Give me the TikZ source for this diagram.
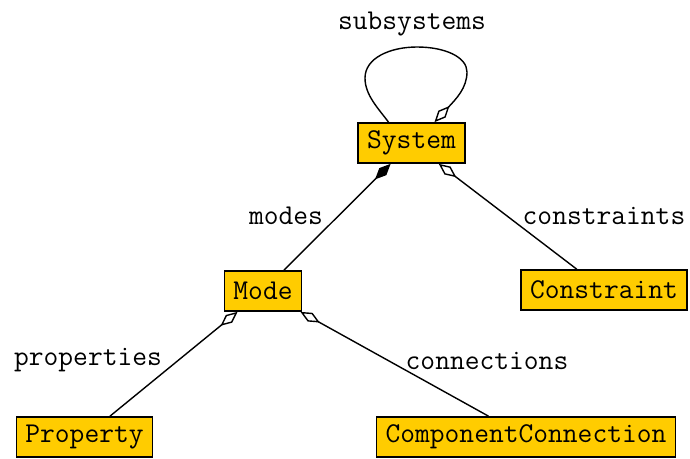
\documentclass[tikz,border=0pt]{standalone}
\usetikzlibrary{arrows.meta}
\definecolor{boxfill}{HTML}{FFCC00}
\begin{document}
\begin{tikzpicture}[x=1pt,y=-1pt,
  cls/.style={draw=black, fill=boxfill, line width=1.7pt, inner xsep=9pt, inner ysep=0pt, minimum height=40pt, font=\ttfamily\fontsize{28.7}{32}\selectfont},
  lbl/.style={font=\ttfamily\fontsize{28.7}{32}\selectfont, inner sep=0pt},
  edge/.style={line width=1.4pt},
  agg/.style={edge, -{Diamond[open, length=22pt, width=10pt, line width=1.4pt]}},
  comp/.style={edge, -{Diamond[length=22pt, width=10pt]}}]
\useasboundingbox (0,0) rectangle (690,458);
\node[cls] (sys) at (411.5,143) {System};
\node[cls] (mode) at (263,291) {Mode};
\node[cls] (con) at (604,290) {Constraint};
\node[cls] (prop) at (84.5,437) {Property};
\node[cls] (cc) at (526,437) {ComponentConnection};
\coordinate (loopA) at ([xshift=-23pt]sys.north);
\coordinate (loopB) at ([xshift=23pt]sys.north);
\draw[agg] (loopA) .. controls (378,108) and (365,95) .. (365,78)
  .. controls (365,58) and (390,47) .. (417,47)
  .. controls (445,47) and (467,57) .. (467,72)
  .. controls (467,88) and (456,99) .. (loopB);
\draw[comp] (mode) -- (sys);
\draw[agg] (con) -- (sys);
\draw[agg] (prop) -- (mode);
\draw[agg] (cc) -- (mode);
\node[lbl] (lsub) at (412,24) {subsystems};
\node[lbl] (lmodes) at (286,216) {modes};
\node[lbl] (lcon) at (604,216) {constraints};
\node[lbl] (lprop) at (88,360) {properties};
\node[lbl] (lconn) at (487,361) {connections};
\end{tikzpicture}
\end{document}
